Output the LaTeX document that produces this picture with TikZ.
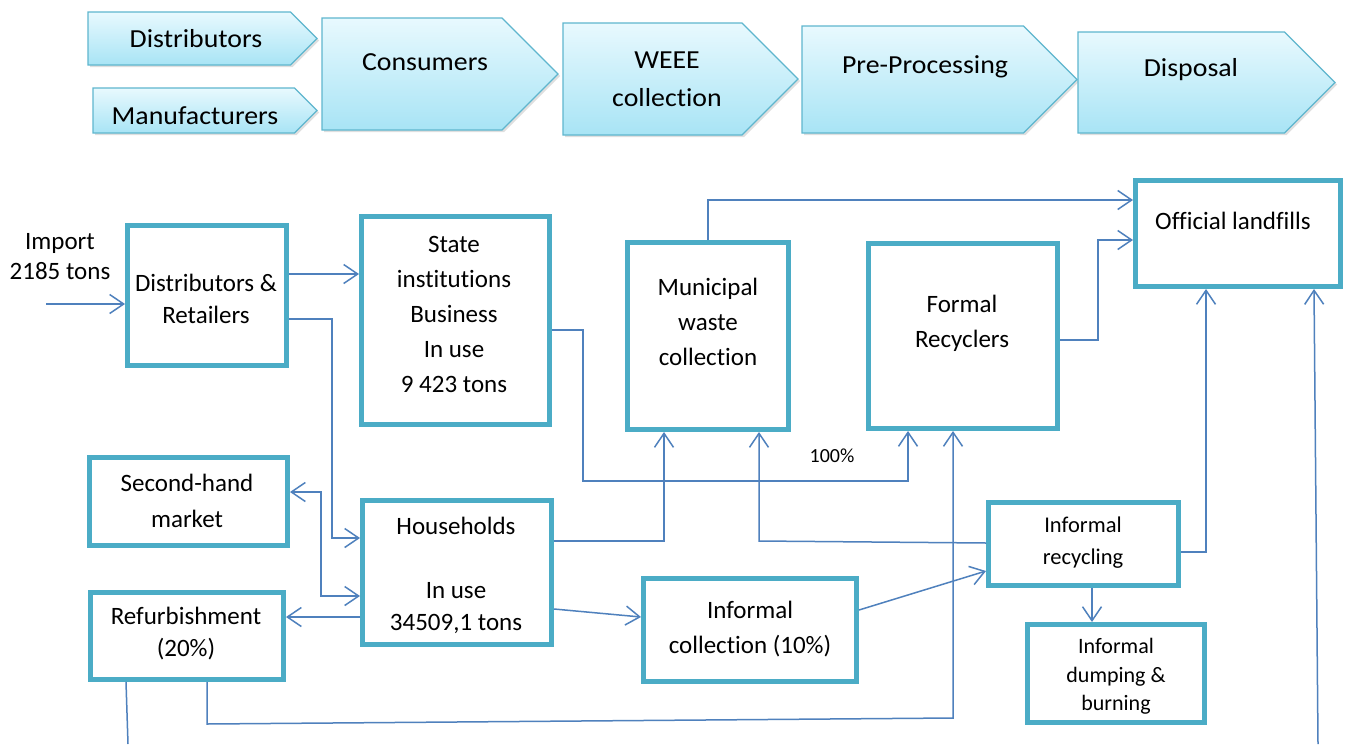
\documentclass[tikz,border=0pt]{standalone}
\usepackage{fontspec}
\setmainfont{Carlito}[Ligatures=NoCommon]
\newfontfamily\topfont[FakeStretch=1.07,Ligatures=NoCommon]{Carlito}
\usetikzlibrary{arrows.meta,shapes.symbols,shadows}
\definecolor{boxc}{HTML}{4BACC6}
\definecolor{linec}{HTML}{4F81BD}
\definecolor{chtop}{HTML}{E8F9FE}
\definecolor{chbot}{HTML}{A8E4F5}
\definecolor{chbd}{HTML}{5FB6CE}
\tikzset{
  chev/.style={signal, signal to=east, signal pointer angle=90, draw=chbd, line width=1.2pt,
    top color=chtop, bottom color=chbot, inner sep=0pt,
    drop shadow={shadow xshift=2pt, shadow yshift=-2pt, opacity=0.25}},
  box/.style={draw=boxc, line width=5pt, fill=white, inner sep=0pt},
  ttxt/.style={inner sep=0pt, align=center, font=\topfont\fontsize{26}{38}\selectfont},
  txt/.style={inner sep=0pt, align=center, font=\fontsize{25}{35}\selectfont},
  stxt/.style={inner sep=0pt, align=center, font=\fontsize{22.5}{32}\selectfont},
  conn/.style={draw=linec, line width=1.5pt},
  arr/.style={conn, -{Straight Barb[length=14pt,width=19pt]}},
  darr/.style={conn, {Straight Barb[length=14pt,width=19pt]}-{Straight Barb[length=14pt,width=19pt]}}
}
\begin{document}
\begin{tikzpicture}[x=1pt,y=-1pt]
\useasboundingbox[fill=white] (0,0) rectangle (1348,744);

% top chevrons (node centre = centre of the body, without the pointer)
\node[chev, minimum width=229pt, minimum height=53pt] (cdist) at (189.25,38.5) {};
\node[chev, minimum width=224pt, minimum height=45pt] (cmanu) at (193.75,110.5) {};
\node[chev, minimum width=236pt, minimum height=112pt] (ccons) at (412,74) {};
\node[chev, minimum width=235pt, minimum height=112pt] (cweee) at (652.5,79) {};
\node[chev, minimum width=275pt, minimum height=107pt] (cprep) at (912.75,79.5) {};
\node[chev, minimum width=257pt, minimum height=101pt] (cdisp) at (1181.25,82.5) {};
\node[ttxt] (tdist) at (196,39) {Distributors};
\node[ttxt] (tmanu) at (195,116) {Manufacturers};
\node[ttxt] (tcons) at (425,62) {Consumers};
\node[ttxt] (tweee) at (667,79) {WEEE\\collection};
\node[ttxt] (tprep) at (925,67) {Pre-Processing};
\node[ttxt] (tdisp) at (1191,70) {Disposal};

% boxes
\node[box, minimum width=159pt, minimum height=140pt] (dr) at (207,295.5) {};
\node[box, minimum width=188pt, minimum height=208pt] (state) at (455.5,320.5) {};
\node[box, minimum width=161pt, minimum height=187pt] (muni) at (708,336) {};
\node[box, minimum width=189pt, minimum height=185pt] (formal) at (963,336) {};
\node[box, minimum width=205pt, minimum height=106pt] (land) at (1238,233.5) {};
\node[box, minimum width=198pt, minimum height=88pt] (second) at (188.5,501.5) {};
\node[box, minimum width=189pt, minimum height=144pt] (house) at (457,572.5) {};
\node[box, minimum width=193pt, minimum height=87pt] (refurb) at (187,636) {};
\node[box, minimum width=213pt, minimum height=103pt] (infcoll) at (750,630) {};
\node[box, minimum width=190pt, minimum height=83pt] (infrec) at (1083.5,544) {};
\node[box, minimum width=177pt, minimum height=98pt] (dump) at (1116,673.5) {};

% texts
\node[txt, font=\fontsize{25}{30}\selectfont] (timp) at (60,257) {Import\\2185 tons};
\node[txt, font=\fontsize{25}{32}\selectfont] (tdr) at (206,299) {Distributors \&\\Retailers};
\node[txt] (tstate) at (454,314) {State\\institutions\\Business\\In use\\9 423 tons};
\node[txt] (tmuni) at (708,322) {Municipal\\waste\\collection};
\node[txt] (tformal) at (962,323.5) {Formal\\Recyclers};
\node[txt] (tland) at (1233,221) {Official landfills};
\node[txt, font=\fontsize{25}{36}\selectfont] (tsecond) at (187,501) {Second-hand\\market};
\node[txt, font=\fontsize{25}{32}\selectfont] (thouse) at (456,575) {Households\\[0pt]\mbox{}\\In use\\34509,1 tons};
\node[txt, font=\fontsize{25}{32}\selectfont] (trefurb) at (186,634) {Refurbishment\\(20\%)};
\node[txt] (tinfcoll) at (750,629.5) {Informal\\collection (10\%)};
\node[stxt] (tinfrec) at (1083,543) {Informal\\recycling};
\node[stxt, font=\fontsize{22}{28.5}\selectfont] (tdump) at (1116,676.5) {Informal\\dumping \&\\burning};
\node[inner sep=0pt, font=\fontsize{20}{24}\selectfont] (tpct) at (832,456) {100\%};

% connectors
\coordinate (imp) at (46,304);
\draw[arr] (imp) -- (dr.west |- imp);
\draw[arr] (dr.east |- 0,274) -- (state.west |- 0,274);
\draw[arr] (dr.east |- 0,319) -- (332,319) -- (332,538) -- (house.west |- 0,538);
\draw[arr] (state.east |- 0,330) -- (583,330) -- (583,481) -- (908,481) -- (908,0 |- formal.south);
\draw[arr] (house.east |- 0,541) -- (664,541) -- (664,0 |- muni.south);
\draw[arr] (infrec.west |- 0,543) -- (759,541) -- (759,0 |- muni.south);
\draw[arr] (207,0 |- refurb.south) -- (207,724) -- (953,718) -- (953,0 |- formal.south);
\coordinate (rbot) at (128,744);
\draw[conn] (126,0 |- refurb.south) -- (rbot);
\coordinate (lbot) at (1318,744);
\draw[arr] (lbot) -- (1314,0 |- land.south);
\draw[arr] (infrec.east |- 0,552) -- (1206,552) -- (1206,0 |- land.south);
\draw[arr] (1092,0 |- infrec.south) -- (1092,0 |- dump.north);
\draw[arr] (infcoll.east |- 0,610) -- (infrec.west |- 0,571);
\draw[arr] (house.east |- 0,609) -- (infcoll.west |- 0,617);
\draw[arr] (house.west |- 0,617) -- (refurb.east |- 0,617);
\draw[darr] (second.east |- 0,492) -- (321,492) -- (321,596) -- (house.west |- 0,596);
\draw[arr] (muni.north) -- (708,200) -- (land.west |- 0,200);
\draw[arr] (formal.east |- 0,340) -- (1098,340) -- (1098,240) -- (land.west |- 0,240);
\end{tikzpicture}
\end{document}
